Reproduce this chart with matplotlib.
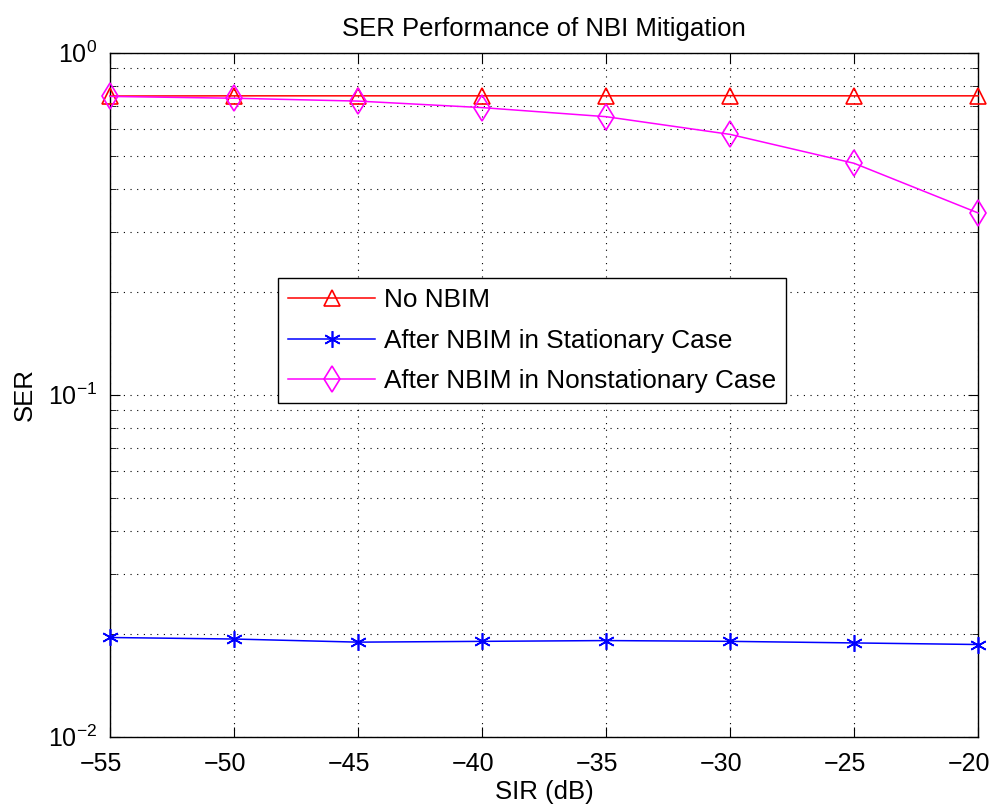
import numpy as np
import matplotlib
matplotlib.use('Agg')
import matplotlib.pyplot as plt
import matplotlib.transforms as mtransforms
from matplotlib.ticker import LogLocator, NullFormatter

plt.rcParams['font.family'] = ['Liberation Sans', 'DejaVu Sans']
plt.rcParams['mathtext.fontset'] = 'custom'
plt.rcParams['mathtext.rm'] = 'Liberation Sans'
plt.rcParams['mathtext.default'] = 'regular'

###data
sir = [-55, -50, -45, -40, -35, -30, -25, -20]
ser_no_nbim = [0.747, 0.748, 0.748, 0.748, 0.748, 0.749, 0.748, 0.748]
ser_stationary = [0.0195, 0.0193, 0.0189, 0.0190, 0.0191, 0.0190, 0.0188, 0.0186]
ser_nonstationary = [0.745, 0.736, 0.722, 0.691, 0.650, 0.577, 0.475, 0.340]
labels = ['No NBIM', 'After NBIM in Stationary Case', 'After NBIM in Nonstationary Case']

fig = plt.figure(figsize=(9.94, 8.06), dpi=100)
ax = fig.add_axes([0.1107, 0.086, 0.8733, 0.8486])

ax.semilogy(sir, ser_no_nbim, color='#ff0000', marker='^', markersize=12,
            markerfacecolor='none', markeredgewidth=1.2, linewidth=1.1,
            clip_on=False, zorder=3, label=labels[0])
ax.semilogy(sir, ser_stationary, color='#0000ff', marker=(6, 2, 0), markersize=12,
            markeredgewidth=1.2, linewidth=1.1, clip_on=False, zorder=3, label=labels[1])
ax.semilogy(sir, ser_nonstationary, color='#ff00ff', marker='d', markersize=13,
            markerfacecolor='none', markeredgewidth=1.2, linewidth=1.1,
            clip_on=False, zorder=3, label=labels[2])

ax.set_xlim(-55, -20)
ax.set_ylim(1e-2, 1)
ax.set_xticks(sir)
ax.set_xticklabels(['\u221255', '\u221250', '\u221245', '\u221240', '\u221235', '\u221230', '\u221225', '\u221220'])
ax.yaxis.set_major_locator(LogLocator(base=10))
ax.yaxis.set_minor_locator(LogLocator(base=10, subs=np.arange(2, 10)))
ax.yaxis.set_minor_formatter(NullFormatter())

ax.grid(True, which='major', linestyle=(0, (1, 5)), color='black', linewidth=0.8)
ax.grid(True, which='minor', axis='y', linestyle=(0, (1, 5)), color='black', linewidth=0.8)
ax.tick_params(which='both', direction='in', top=True, right=True, labelsize=18)
ax.tick_params(which='major', length=7)
ax.tick_params(which='minor', length=4)
ax.tick_params(axis='x', pad=11)
ax.tick_params(axis='y', pad=9)
for s in ax.spines.values():
    s.set_linewidth(1.0)

# MATLAB-style labels sit a little left of their ticks
shift = mtransforms.ScaledTranslation(-9 / 100, 0, fig.dpi_scale_trans)
for lab in ax.get_xticklabels():
    lab.set_transform(lab.get_transform() + shift)

ax.set_xlabel('SIR (dB)', fontsize=18.5, labelpad=3)
ax.set_ylabel('SER', fontsize=18.5, labelpad=8)
ax.set_title('SER Performance of NBI Mitigation', fontsize=18.5, pad=12)

leg = ax.legend(loc='upper left', bbox_to_anchor=(0.1935, 0.6706), fontsize=18.8,
                fancybox=False, framealpha=1, edgecolor='black', handlelength=3.3,
                borderpad=0.4, labelspacing=0.62, handletextpad=0.35, borderaxespad=0)
leg.get_frame().set_linewidth(1.0)

plt.savefig('out.png', dpi=100)
